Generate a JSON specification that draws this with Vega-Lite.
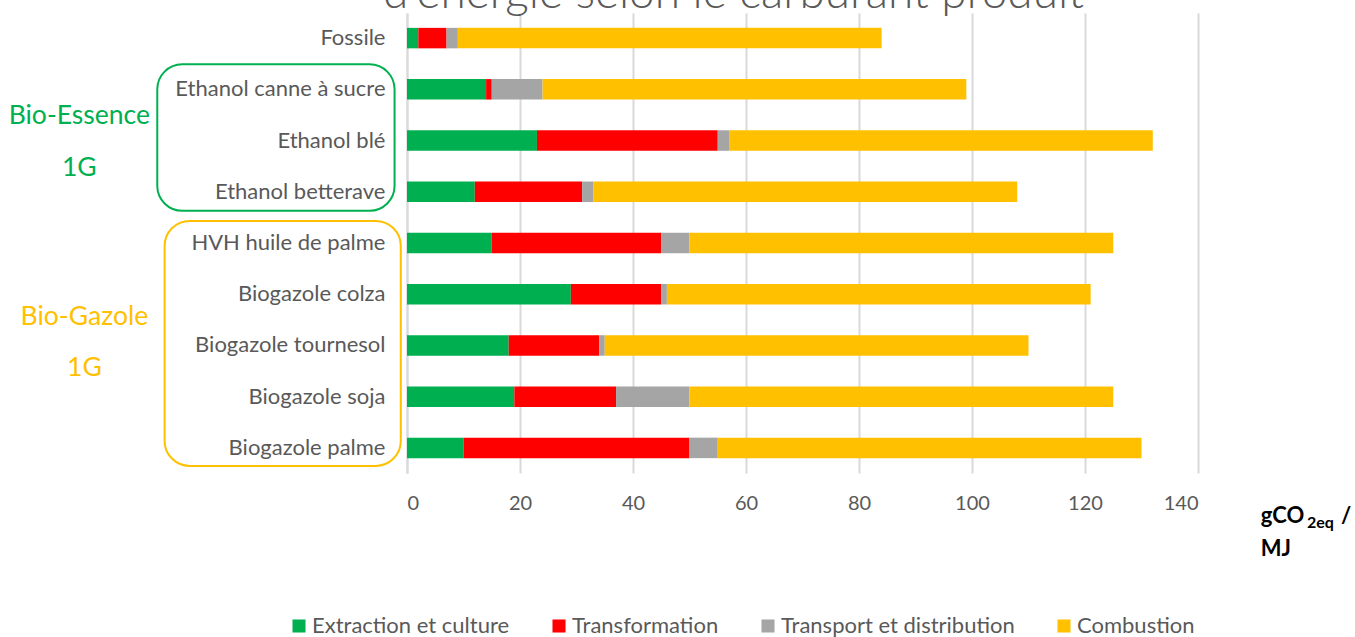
{
  "$schema": "https://vega.github.io/schema/vega-lite/v6.json",
  "width": 791,
  "height": 460,
  "autosize": {"type": "none"},
  "padding": {"left": 407, "top": 13, "right": 157, "bottom": 164},
  "background": "white",
  "config": {"view": {"stroke": null}, "font": "Lato", "text": {"font": "Lato"}},
  "title": {
    "text": "d'énergie selon le carburant produit",
    "fontSize": 46,
    "font": "Lato",
    "fontWeight": 300,
    "color": "#595959",
    "anchor": "middle",
    "frame": "group",
    "dx": -69,
    "dy": 41,
    "baseline": "alphabetic",
    "offset": 0,
    "limit": 0
  },
  "data": {
    "values": [
      {"cat": "Fossile", "stage": "Extraction et culture", "k": 1, "v": 2},
      {"cat": "Fossile", "stage": "Transformation", "k": 2, "v": 5},
      {"cat": "Fossile", "stage": "Transport et distribution", "k": 3, "v": 2},
      {"cat": "Fossile", "stage": "Combustion", "k": 4, "v": 75},
      {"cat": "Ethanol canne à sucre", "stage": "Extraction et culture", "k": 1, "v": 14},
      {"cat": "Ethanol canne à sucre", "stage": "Transformation", "k": 2, "v": 1},
      {"cat": "Ethanol canne à sucre", "stage": "Transport et distribution", "k": 3, "v": 9},
      {"cat": "Ethanol canne à sucre", "stage": "Combustion", "k": 4, "v": 75},
      {"cat": "Ethanol blé", "stage": "Extraction et culture", "k": 1, "v": 23},
      {"cat": "Ethanol blé", "stage": "Transformation", "k": 2, "v": 32},
      {"cat": "Ethanol blé", "stage": "Transport et distribution", "k": 3, "v": 2},
      {"cat": "Ethanol blé", "stage": "Combustion", "k": 4, "v": 75},
      {"cat": "Ethanol betterave", "stage": "Extraction et culture", "k": 1, "v": 12},
      {"cat": "Ethanol betterave", "stage": "Transformation", "k": 2, "v": 19},
      {"cat": "Ethanol betterave", "stage": "Transport et distribution", "k": 3, "v": 2},
      {"cat": "Ethanol betterave", "stage": "Combustion", "k": 4, "v": 75},
      {"cat": "HVH huile de palme", "stage": "Extraction et culture", "k": 1, "v": 15},
      {"cat": "HVH huile de palme", "stage": "Transformation", "k": 2, "v": 30},
      {"cat": "HVH huile de palme", "stage": "Transport et distribution", "k": 3, "v": 5},
      {"cat": "HVH huile de palme", "stage": "Combustion", "k": 4, "v": 75},
      {"cat": "Biogazole colza", "stage": "Extraction et culture", "k": 1, "v": 29},
      {"cat": "Biogazole colza", "stage": "Transformation", "k": 2, "v": 16},
      {"cat": "Biogazole colza", "stage": "Transport et distribution", "k": 3, "v": 1},
      {"cat": "Biogazole colza", "stage": "Combustion", "k": 4, "v": 75},
      {"cat": "Biogazole tournesol", "stage": "Extraction et culture", "k": 1, "v": 18},
      {"cat": "Biogazole tournesol", "stage": "Transformation", "k": 2, "v": 16},
      {"cat": "Biogazole tournesol", "stage": "Transport et distribution", "k": 3, "v": 1},
      {"cat": "Biogazole tournesol", "stage": "Combustion", "k": 4, "v": 75},
      {"cat": "Biogazole soja", "stage": "Extraction et culture", "k": 1, "v": 19},
      {"cat": "Biogazole soja", "stage": "Transformation", "k": 2, "v": 18},
      {"cat": "Biogazole soja", "stage": "Transport et distribution", "k": 3, "v": 13},
      {"cat": "Biogazole soja", "stage": "Combustion", "k": 4, "v": 75},
      {"cat": "Biogazole palme", "stage": "Extraction et culture", "k": 1, "v": 10},
      {"cat": "Biogazole palme", "stage": "Transformation", "k": 2, "v": 40},
      {"cat": "Biogazole palme", "stage": "Transport et distribution", "k": 3, "v": 5},
      {"cat": "Biogazole palme", "stage": "Combustion", "k": 4, "v": 75}
    ]
  },
  "encoding": {
    "y": {
      "field": "cat",
      "type": "nominal",
      "scale": {
        "domain": ["Fossile", "Ethanol canne à sucre", "Ethanol blé", "Ethanol betterave", "HVH huile de palme", "Biogazole colza", "Biogazole tournesol", "Biogazole soja", "Biogazole palme"],
        "paddingInner": 0.6,
        "paddingOuter": 0.29
      },
      "axis": {
        "title": null,
        "ticks": false,
        "domain": true,
        "domainColor": "#d9d9d9",
        "domainWidth": 2,
        "grid": false,
        "labelFontSize": 22,
        "labelFont": "Lato",
        "labelColor": "#595959",
        "labelPadding": 22,
        "labelLimit": 0
      }
    }
  },
  "layer": [
    {
      "mark": {"type": "bar"},
      "encoding": {
        "x": {
          "field": "v",
          "type": "quantitative",
          "stack": "zero",
          "scale": {"domain": [0, 140], "nice": false},
          "axis": {
            "title": null,
            "values": [0, 20, 40, 60, 80, 100, 120, 140],
            "grid": true,
            "gridColor": "#d9d9d9",
            "gridWidth": 2,
            "domain": false,
            "ticks": false,
            "labelFontSize": 20,
            "labelFont": "Lato",
            "labelColor": "#595959",
            "labelPadding": 20
          }
        },
        "order": {"field": "k", "type": "quantitative"},
        "color": {
          "field": "stage",
          "type": "nominal",
          "scale": {
            "domain": ["Extraction et culture", "Transformation", "Transport et distribution", "Combustion"],
            "range": ["#00b050", "#ff0000", "#a5a5a5", "#ffc000"]
          },
          "legend": {
            "title": null,
            "orient": "none",
            "direction": "horizontal",
            "legendX": -119,
            "legendY": 602,
            "symbolType": "square",
            "symbolSize": 170,
            "symbolStrokeWidth": 0,
            "labelFontSize": 22,
            "labelFont": "Lato",
            "labelColor": "#595959",
            "labelOffset": 2,
            "labelLimit": 0,
            "columnPadding": 38
          }
        }
      }
    },
    {
      "data": {"values": [
        {"cat": "Ethanol canne à sucre", "cat2": "Ethanol betterave"}
      ]},
      "mark": {"type": "rect", "fill": null, "filled": false, "stroke": "#00b050", "strokeWidth": 2, "cornerRadius": 25, "yOffset": -25, "y2Offset": 19},
      "encoding": {
        "y": {"field": "cat", "type": "nominal", "bandPosition": 0.5},
        "y2": {"field": "cat2", "bandPosition": 0.5},
        "x": {"datum": -44.2, "type": "quantitative", "scale": {"domain": [0, 140], "nice": false}},
        "x2": {"datum": -2.2}
      }
    },
    {
      "data": {"values": [
        {"cat": "HVH huile de palme", "cat2": "Biogazole palme"}
      ]},
      "mark": {"type": "rect", "fill": null, "filled": false, "stroke": "#ffc000", "strokeWidth": 2, "cornerRadius": 25, "yOffset": -22, "y2Offset": 18},
      "encoding": {
        "y": {"field": "cat", "type": "nominal", "bandPosition": 0.5},
        "y2": {"field": "cat2", "bandPosition": 0.5},
        "x": {"datum": -42.9, "type": "quantitative", "scale": {"domain": [0, 140], "nice": false}},
        "x2": {"datum": -1.1}
      }
    },
    {
      "data": {"values": [
        {"cat": "Ethanol canne à sucre", "label": "Bio-Essence"},
        {"cat": "Ethanol blé", "label": "1G"}
      ]},
      "mark": {"type": "text", "font": "Lato", "fontSize": 26.5, "color": "#00b050", "align": "center", "baseline": "middle", "dy": 27},
      "encoding": {
        "y": {"field": "cat", "type": "nominal", "bandPosition": 0.5},
        "x": {"datum": -58, "type": "quantitative", "scale": {"domain": [0, 140], "nice": false}},
        "text": {"field": "label"}
      }
    },
    {
      "data": {"values": [
        {"cat": "Biogazole colza", "label": "Bio-Gazole"},
        {"cat": "Biogazole tournesol", "label": "1G"}
      ]},
      "mark": {"type": "text", "font": "Lato", "fontSize": 26.5, "color": "#ffc000", "align": "center", "baseline": "middle", "dy": 22.5},
      "encoding": {
        "y": {"field": "cat", "type": "nominal", "bandPosition": 0.5},
        "x": {"datum": -57.1, "type": "quantitative", "scale": {"domain": [0, 140], "nice": false}},
        "text": {"field": "label"}
      }
    },
    {
      "data": {"values": [{"cat": "Biogazole palme", "label": "gCO"}]},
      "mark": {"type": "text", "font": "Lato", "fontSize": 22, "fontWeight": "bold", "color": "#000000", "align": "left", "baseline": "alphabetic", "dy": 75},
      "encoding": {
        "y": {"field": "cat", "type": "nominal", "bandPosition": 0.5},
        "x": {"datum": 151.1, "type": "quantitative", "scale": {"domain": [0, 140], "nice": false}},
        "text": {"field": "label"}
      }
    },
    {
      "data": {"values": [{"cat": "Biogazole palme", "label": "2eq"}]},
      "mark": {"type": "text", "font": "Lato", "fontSize": 16, "fontWeight": "bold", "color": "#000000", "align": "left", "baseline": "alphabetic", "dy": 80},
      "encoding": {
        "y": {"field": "cat", "type": "nominal", "bandPosition": 0.5},
        "x": {"datum": 159.3, "type": "quantitative", "scale": {"domain": [0, 140], "nice": false}},
        "text": {"field": "label"}
      }
    },
    {
      "data": {"values": [{"cat": "Biogazole palme", "label": "/"}]},
      "mark": {"type": "text", "font": "Lato", "fontSize": 22, "fontWeight": "bold", "color": "#000000", "align": "left", "baseline": "alphabetic", "dy": 75},
      "encoding": {
        "y": {"field": "cat", "type": "nominal", "bandPosition": 0.5},
        "x": {"datum": 165.3, "type": "quantitative", "scale": {"domain": [0, 140], "nice": false}},
        "text": {"field": "label"}
      }
    },
    {
      "data": {"values": [{"cat": "Biogazole palme", "label": "MJ"}]},
      "mark": {"type": "text", "font": "Lato", "fontSize": 22, "fontWeight": "bold", "color": "#000000", "align": "left", "baseline": "alphabetic", "dy": 108},
      "encoding": {
        "y": {"field": "cat", "type": "nominal", "bandPosition": 0.5},
        "x": {"datum": 151.1, "type": "quantitative", "scale": {"domain": [0, 140], "nice": false}},
        "text": {"field": "label"}
      }
    }
  ]
}
